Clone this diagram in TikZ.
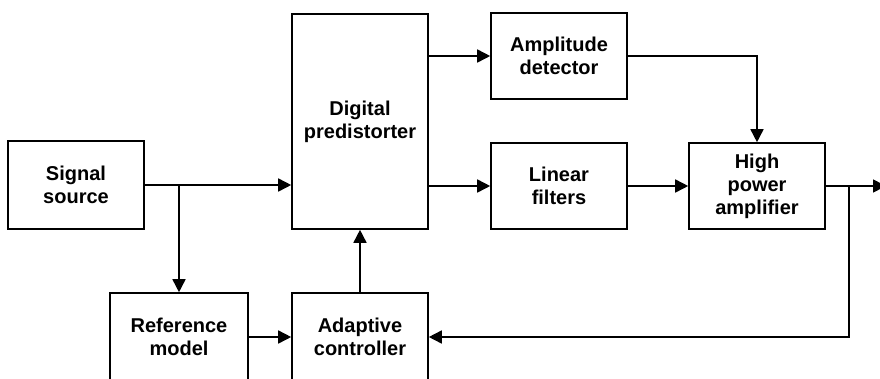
\documentclass[tikz,border=0pt]{standalone}
\usepackage{fontspec}
\setmainfont{Liberation Sans}
\usetikzlibrary{arrows.meta}
\begin{document}
\begin{tikzpicture}[x=1pt,y=-1pt,
  blk/.style={draw,line width=1.6pt,minimum width=136pt,minimum height=86pt,align=center,inner sep=0pt,
    font=\bfseries\fontsize{20}{23}\selectfont},
  conn/.style={line width=1.6pt,-{Triangle[length=13pt,width=13pt]}}]
\useasboundingbox (0,0) rectangle (880,378);
\node[blk,minimum height=88pt] (src) at (76,185) {Signal\\source};
\node[blk,minimum height=215pt] (dp) at (360,121.5) {Digital\\predistorter};
\node[blk] (ad) at (559,56) {Amplitude\\detector};
\node[blk] (lf) at (559,186) {Linear\\filters};
\node[blk] (hpa) at (757,186) {High\\power\\amplifier};
\node[blk,minimum width=138pt,minimum height=88pt] (ref) at (179,337) {Reference\\model};
\node[blk,minimum height=88pt] (ac) at (360,337) {Adaptive\\controller};
\coordinate (b1) at (179,185);
\coordinate (b2) at (849,186);
\coordinate (out) at (886,186);
\draw[conn] (src.east |- b1) -- (dp.west |- b1);
\draw[conn] (b1) -- (ref.north);
\draw[conn] (ref.east |- ac.east) -- (ac.west);
\draw[conn] (ac.north) -- (dp.south);
\draw[conn] (dp.east |- ad.west) -- (ad.west);
\draw[conn] (dp.east |- lf.west) -- (lf.west);
\draw[conn] (lf.east) -- (hpa.west);
\draw[conn] (ad.east) -| (hpa.north);
\draw[conn] (hpa.east) -- (out);
\draw[conn] (b2) |- (ac.east);
\end{tikzpicture}
\end{document}
